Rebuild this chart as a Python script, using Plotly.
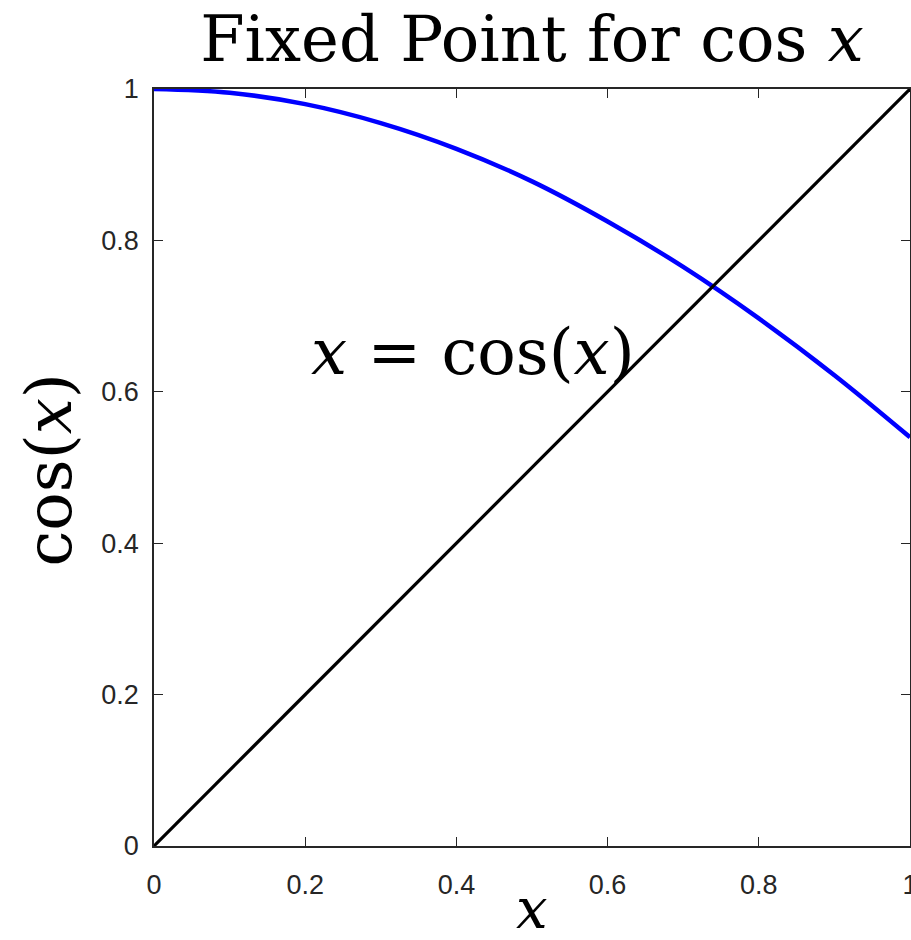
import plotly.graph_objects as go

# x samples and cos(x) values
x_vals = [0.0, 0.1, 0.2, 0.3, 0.4, 0.5, 0.6, 0.7, 0.8, 0.9, 1.0]
cos_vals = [1.0, 0.995, 0.980, 0.955, 0.921, 0.878, 0.825, 0.765, 0.697, 0.622, 0.540]
line_x = [0.0, 1.0]
line_y = [0.0, 1.0]
tick_vals = [0, 0.2, 0.4, 0.6, 0.8, 1]
tick_text = ["0", "0.2", "0.4", "0.6", "0.8", "1"]

serif = "DejaVu Serif"
sans = "Liberation Sans"

W, H = 911, 940
L, R, T, B = 154, 1, 89, 94
PW, PH = W - L - R, H - T - B

fig = go.Figure()
fig.add_trace(go.Scatter(x=x_vals, y=cos_vals, mode="lines",
                         line=dict(color="rgb(0,0,255)", width=4.5, shape="spline"),
                         showlegend=False, hoverinfo="skip"))
fig.add_trace(go.Scatter(x=line_x, y=line_y, mode="lines",
                         line=dict(color="black", width=3.2),
                         showlegend=False, hoverinfo="skip"))

axis_common = dict(
    range=[0, 1], tickvals=tick_vals, ticktext=tick_text,
    ticks="inside", ticklen=9, tickwidth=1.3, tickcolor="#262626",
    showline=True, linecolor="#262626", linewidth=1.5, mirror="ticks",
    showgrid=False, zeroline=False, ticklabeloverflow="allow", automargin=False,
    tickfont=dict(family=sans, size=27, color="#262626"),
)

fig.update_layout(
    width=W, height=H,
    margin=dict(l=L, r=R, t=T, b=B, autoexpand=False),
    paper_bgcolor="white", plot_bgcolor="white",
    title=dict(text="Fixed Point for cos <i>x</i>", x=(L + PW / 2) / W, xanchor="center",
               y=1 - 39 / H, yref="container", yanchor="middle", automargin=False,
               font=dict(family=serif, size=64, color="black")),
    xaxis=dict(**axis_common, ticklabelstandoff=14),
    yaxis=dict(**axis_common, ticklabelstandoff=8),
    annotations=[
        dict(x=0.205, y=0.652, xref="x", yref="y", xanchor="left", yanchor="middle",
             text="<i>x</i> = cos(<i>x</i>)", showarrow=False,
             font=dict(family=serif, size=64, color="black")),
        dict(x=0.5, y=-(908 - (T + PH)) / PH, xref="paper", yref="paper",
             xanchor="center", yanchor="middle", text="<i>x</i>", showarrow=False,
             font=dict(family=serif, size=56, color="black")),
        dict(x=(49 - L) / PW, y=0.496, xref="paper", yref="paper",
             xanchor="center", yanchor="middle", textangle=-90, text="cos(<i>x</i>)",
             showarrow=False, font=dict(family=serif, size=64, color="black")),
    ],
)

fig.write_html("out.html")
